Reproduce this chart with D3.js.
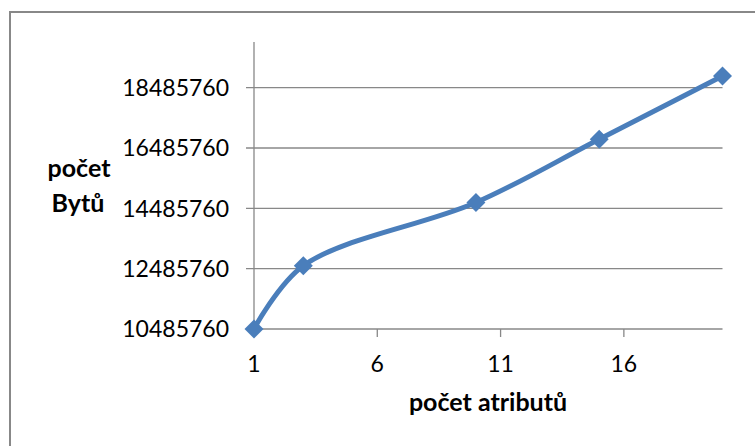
<!DOCTYPE html>
<meta charset="utf-8">
<script src="https://d3js.org/d3.v7.min.js"></script>
<style>
   body {
      background-color: white;
      margin: 0;
      padding: 0;
   }
   text {
      font-family: Lato, "Open Sans", sans-serif;
      fill: #000;
   }
</style>
<body>
<svg id="chart" width="755" height="446"></svg>
<script>
   // data: number of attributes vs. size in bytes
   var attributes = [1, 3, 10, 15, 20];
   var bytes = [10485760, 12582912, 14680064, 16777216, 18874368];
   var yTicks = [10485760, 12485760, 14485760, 16485760, 18485760];
   var xTicks = [1, 6, 11, 16];

   var svg = d3.select("#chart"),
      width = +svg.attr("width"),
      height = +svg.attr("height");

   var grey = "#888888",
      blue = "#4a7ebb";

   // outer frame (only top and left edges visible)
   svg.append("path")
      .attr("d", "M10,446V12H755")
      .attr("fill", "none")
      .attr("stroke", grey)
      .attr("stroke-width", 2);

   var x = d3.scaleLinear()
      .domain([1, 20])
      .range([254, 722.5]);

   var y = d3.scaleLinear()
      .domain([10485760, 20000000])
      .range([329, 42]);

   // horizontal gridlines
   svg.append("g")
      .selectAll("line")
      .data(yTicks)
      .enter()
      .append("line")
      .attr("x1", x(1) - 8)
      .attr("x2", x(20))
      .attr("y1", function (d) { return y(d) })
      .attr("y2", function (d) { return y(d) })
      .attr("stroke", grey)
      .attr("stroke-width", 1.3);

   // y axis line
   svg.append("line")
      .attr("x1", x(1)).attr("x2", x(1))
      .attr("y1", y(20000000)).attr("y2", y(10485760))
      .attr("stroke", grey)
      .attr("stroke-width", 1.3);

   // x ticks
   svg.append("g")
      .selectAll("line")
      .data(xTicks.slice(1))
      .enter()
      .append("line")
      .attr("x1", function (d) { return x(d) })
      .attr("x2", function (d) { return x(d) })
      .attr("y1", y(10485760))
      .attr("y2", y(10485760) + 8)
      .attr("stroke", grey)
      .attr("stroke-width", 1.3);

   // y labels
   svg.append("g")
      .selectAll("text")
      .data(yTicks)
      .enter()
      .append("text")
      .attr("x", 229)
      .attr("y", function (d) { return y(d) })
      .attr("dy", "0.36em")
      .attr("text-anchor", "end")
      .style("font-size", "23px")
      .text(function (d) { return d });

   // x labels
   svg.append("g")
      .selectAll("text")
      .data(xTicks)
      .enter()
      .append("text")
      .attr("x", function (d) { return x(d) })
      .attr("y", 372)
      .attr("text-anchor", "middle")
      .style("font-size", "23px")
      .text(function (d) { return d });

   // axis titles
   svg.append("text")
      .attr("x", 79).attr("y", 177)
      .attr("text-anchor", "middle")
      .style("font-size", "25px")
      .style("font-weight", "bold")
      .text("počet");
   svg.append("text")
      .attr("x", 78).attr("y", 212)
      .attr("text-anchor", "middle")
      .style("font-size", "25px")
      .style("font-weight", "bold")
      .text("Bytů");
   svg.append("text")
      .attr("x", 488).attr("y", 411)
      .attr("text-anchor", "middle")
      .style("font-size", "25px")
      .style("font-weight", "bold")
      .text("počet atributů");

   // smoothed line
   var points = attributes.map(function (a, i) { return [a, bytes[i]] });

   var line = d3.line()
      .x(function (d) { return x(d[0]) })
      .y(function (d) { return y(d[1]) })
      .curve(d3.curveCatmullRom.alpha(0.5));

   svg.append("path")
      .datum(points)
      .attr("d", line)
      .attr("fill", "none")
      .attr("stroke", blue)
      .attr("stroke-width", 5)
      .attr("stroke-linejoin", "round")
      .attr("stroke-linecap", "round");

   // diamond markers
   svg.append("g")
      .selectAll("path")
      .data(points)
      .enter()
      .append("path")
      .attr("d", d3.symbol().type(d3.symbolSquare).size(180))
      .attr("transform", function (d) { return "translate(" + x(d[0]) + "," + y(d[1]) + ") rotate(45)" })
      .attr("fill", blue);
</script>
</body>
